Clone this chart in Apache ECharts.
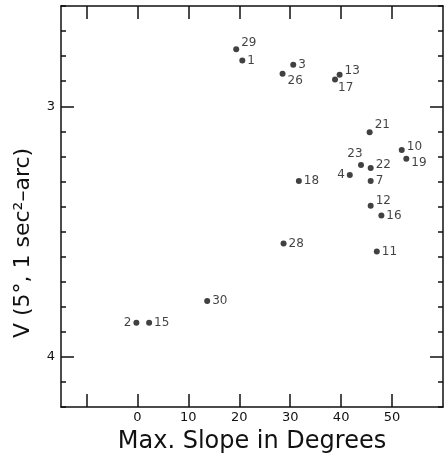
<!DOCTYPE html>
<html>
<head>
<meta charset="utf-8">
<script src="https://cdn.jsdelivr.net/npm/echarts@6/dist/echarts.min.js"></script>
<style>
  html, body { margin: 0; padding: 0; background: #fff; }
  #chart { width: 444px; height: 460px; }
</style>
</head>
<body>
<div id="chart"></div>
<script>
// site number, max slope (deg), V value
const siteIds = ['29', '1', '3', '26', '13', '17', '21', '10', '19', '23', '22', '4', '7', '18', '12', '16', '28', '11', '30', '2', '15'];
const maxSlope = [19.4, 20.6, 30.6, 28.5, 39.7, 38.8, 45.6, 51.9, 52.8, 43.9, 45.8, 41.7, 45.8, 31.7, 45.8, 47.9, 28.7, 47.0, 13.7, -0.2, 2.3];
const vValue = [2.773, 2.817, 2.834, 2.870, 2.874, 2.893, 3.104, 3.175, 3.209, 3.234, 3.246, 3.274, 3.298, 3.298, 3.397, 3.436, 3.548, 3.580, 3.777, 3.864, 3.864];

const xTickValues = [-10, 0, 10, 20, 30, 40, 50];
const xLabelValues = [0, 10, 20, 30, 40, 50];
const yLabelValues = [3, 4];

// where each site number sits next to its dot
const labelPlace = {
  '29': ['right', [0, -6]],
  '26': ['right', [0, 7]],
  '13': ['right', [0, -4]],
  '17': ['right', [-2, 8]],
  '21': ['right', [0, -7]],
  '10': ['right', [0, -3]],
  '19': ['right', [0, 4]],
  '23': ['top', [-6, 0]],
  '22': ['right', [0, -3]],
  '12': ['right', [0, -5]],
  '4': ['left', [0, 0]],
  '2': ['left', [0, 0]]
};

const chart = echarts.init(document.getElementById('chart'));
const font = 'DejaVu Sans';
const ink = '#111';
const lineStyle = { color: ink, width: 1.5 };

const points = siteIds.map((id, i) => {
  const p = labelPlace[id] || ['right', [0, 0]];
  return {
    value: [maxSlope[i], vValue[i]],
    name: id,
    label: { position: p[0], offset: p[1] }
  };
});

function xAxisOf(pos, withLabels) {
  return {
    type: 'value', min: -15, max: 60, position: pos,
    axisLine: { show: true, onZero: false, lineStyle: lineStyle },
    axisTick: { show: true, inside: true, length: 13, customValues: xTickValues, lineStyle: lineStyle },
    axisLabel: withLabels
      ? { customValues: xLabelValues, margin: 4, fontFamily: font, fontSize: 13, color: ink }
      : { show: false },
    splitLine: { show: false }
  };
}

function yAxisOf(pos, major) {
  const ax = {
    type: 'value', inverse: true, min: 2.6, max: 4.2, position: pos, offset: 0,
    axisLine: { show: !major, onZero: false, lineStyle: lineStyle },
    axisLabel: { show: false },
    splitLine: { show: false }
  };
  if (major) {
    ax.axisTick = { show: true, inside: true, length: 13, customValues: yLabelValues, lineStyle: lineStyle };
  } else {
    ax.interval = 0.1;
    ax.axisTick = { show: true, inside: true, length: 5, lineStyle: lineStyle };
  }
  return ax;
}

const yMain = yAxisOf('left', false);
yMain.axisLabel = { customValues: yLabelValues, margin: 6, fontFamily: font, fontSize: 13, color: ink };
yMain.name = 'V (5°, 1 sec²–arc)';
yMain.nameLocation = 'middle';
yMain.nameGap = 27;
yMain.nameTextStyle = { fontFamily: font, fontSize: 22, color: ink, padding: [0, 73, 0, 0] };

const xMain = xAxisOf('bottom', true);
xMain.name = 'Max. Slope in Degrees';
xMain.nameLocation = 'middle';
xMain.nameGap = 23;
xMain.nameTextStyle = { fontFamily: font, fontSize: 24, color: ink };

const option = {
  animation: false,
  grid: { left: 61, top: 6, right: 1, bottom: 53 },
  xAxis: [xMain, xAxisOf('top', false)],
  yAxis: [yMain, yAxisOf('left', true), yAxisOf('right', false), yAxisOf('right', true)],
  series: [
    {
      type: 'scatter',
      xAxisIndex: 0,
      yAxisIndex: 0,
      symbolSize: 6,
      itemStyle: { color: ink },
      label: {
        show: true,
        formatter: '{b}',
        distance: 2,
        fontFamily: font,
        fontSize: 12,
        color: ink
      },
      data: points
    }
  ]
};

chart.setOption(option);
</script>
</body>
</html>
